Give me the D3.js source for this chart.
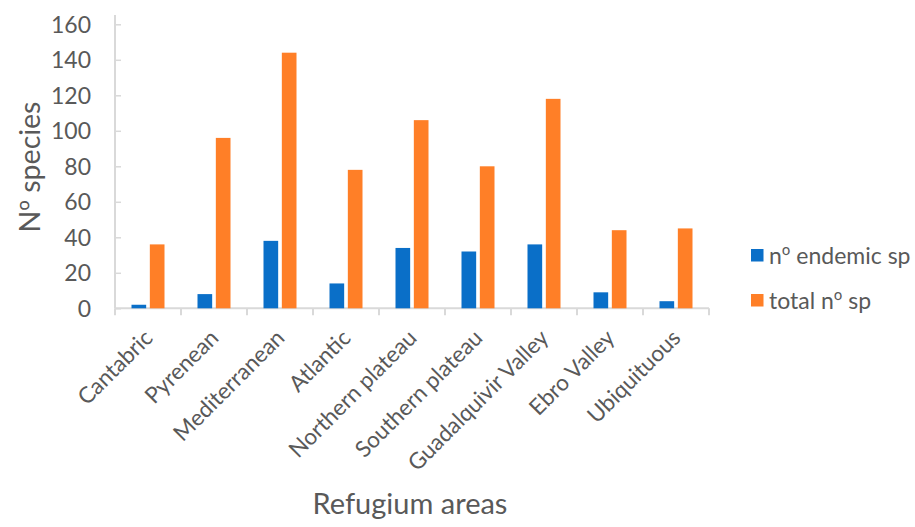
<!DOCTYPE html>
<html>
<head>
<meta charset="utf-8">
<script src="https://cdn.jsdelivr.net/npm/d3@7"></script>
<style>
  html, body { margin: 0; padding: 0; background: #fff; }
  svg { display: block; }
  text { font-family: Lato, "Open Sans", sans-serif; fill: #595959; }
  tspan.ord { font-family: "Open Sans", sans-serif; }
</style>
</head>
<body>
<svg id="chart" width="915" height="527"></svg>
<script>
const categories = ["Cantabric", "Pyrenean", "Mediterranean", "Atlantic", "Northern plateau",
  "Southern plateau", "Guadalquivir Valley", "Ebro Valley", "Ubiquituous"];
const seriesNames = ["nº endemic sp", "total nº sp"];
const endemicValues = [2, 8, 38, 14, 34, 32, 36, 9, 4];
const totalValues = [36, 96, 144, 78, 106, 80, 118, 44, 45];
const yTicks = [0, 20, 40, 60, 80, 100, 120, 140, 160];
const colors = ["#0A6FC8", "#FF7F27"];

const svg = d3.select("#chart");
const plotLeft = 115, plotRight = 709, plotTop = 24.3, plotBottom = 308.3;

const x0 = d3.scaleBand().domain(categories).range([plotLeft, plotRight]).paddingInner(0.5).paddingOuter(0.25);
const x1 = d3.scaleBand().domain(seriesNames).range([0, x0.bandwidth()]).paddingInner(0.2);
const y = d3.scaleLinear().domain([0, 160]).range([plotBottom, plotTop]);

// write text, rendering "º" with a font that draws the ordinal indicator properly
function ordText(sel, str) {
  const parts = str.split("º");
  parts.forEach((p, i) => {
    if (p) sel.append("tspan").text(p);
    if (i < parts.length - 1) sel.append("tspan").attr("class", "ord").text("º");
  });
}

// y axis
const yAxis = svg.append("g").attr("transform", `translate(${plotLeft},0)`)
  .call(d3.axisRight(y).tickValues(yTicks).tickSize(6).tickFormat(""));
yAxis.select(".domain").remove();
yAxis.selectAll("line").attr("stroke", "#D9D9D9").attr("stroke-width", 1.5);
svg.append("line").attr("x1", plotLeft).attr("x2", plotLeft).attr("y1", 15).attr("y2", plotBottom)
  .attr("stroke", "#D9D9D9").attr("stroke-width", 2);
svg.append("g").selectAll("text").data(yTicks).join("text")
  .attr("x", plotLeft - 24).attr("y", d => y(d)).attr("dy", "0.36em")
  .attr("text-anchor", "end").style("font-size", "23px").text(d => d);

// x axis
const band = x0.step();
const boundaries = d3.range(categories.length + 1).map(i => plotLeft + i * band);
svg.append("g").selectAll("line").data(boundaries).join("line")
  .attr("x1", d => d).attr("x2", d => d).attr("y1", plotBottom).attr("y2", plotBottom + 7)
  .attr("stroke", "#D9D9D9").attr("stroke-width", 2);
svg.append("line").attr("x1", plotLeft).attr("x2", plotRight).attr("y1", plotBottom).attr("y2", plotBottom)
  .attr("stroke", "#D9D9D9").attr("stroke-width", 2);

// bars
const rows = categories.map((c, i) => ({ cat: c, vals: [endemicValues[i], totalValues[i]] }));
const groups = svg.append("g").selectAll("g").data(rows).join("g")
  .attr("transform", d => `translate(${x0(d.cat)},0)`);
groups.selectAll("rect").data(d => d.vals.map((v, j) => ({ s: seriesNames[j], v, j })))
  .join("rect")
  .attr("x", d => x1(d.s)).attr("width", x1.bandwidth())
  .attr("y", d => y(d.v)).attr("height", d => y(0) - y(d.v))
  .attr("fill", d => colors[d.j]);

// category labels
svg.append("g").selectAll("text").data(categories).join("text")
  .attr("transform", d => `translate(${x0(d) + x0.bandwidth() / 2 + 6},${plotBottom + 31}) rotate(-45)`)
  .attr("text-anchor", "end").style("font-size", "22.5px").text(d => d);

// axis titles
svg.append("text").attr("transform", `translate(40,167) rotate(-90)`)
  .attr("text-anchor", "middle").style("font-size", "28.5px")
  .call(s => ordText(s, "Nº species"));
svg.append("text").attr("x", 410).attr("y", 514)
  .attr("text-anchor", "middle").style("font-size", "29px").text("Refugium areas");

// legend
const leg = svg.append("g").selectAll("g").data(seriesNames).join("g")
  .attr("transform", (d, i) => `translate(751,${249 + i * 45})`);
leg.append("rect").attr("width", 12.5).attr("height", 12.5).attr("fill", (d, i) => colors[i]);
leg.append("text").attr("x", 18).attr("y", 6.5).attr("dy", "0.36em")
  .style("font-size", "23px").each(function (d) { ordText(d3.select(this), d); });
</script>
</body>
</html>
